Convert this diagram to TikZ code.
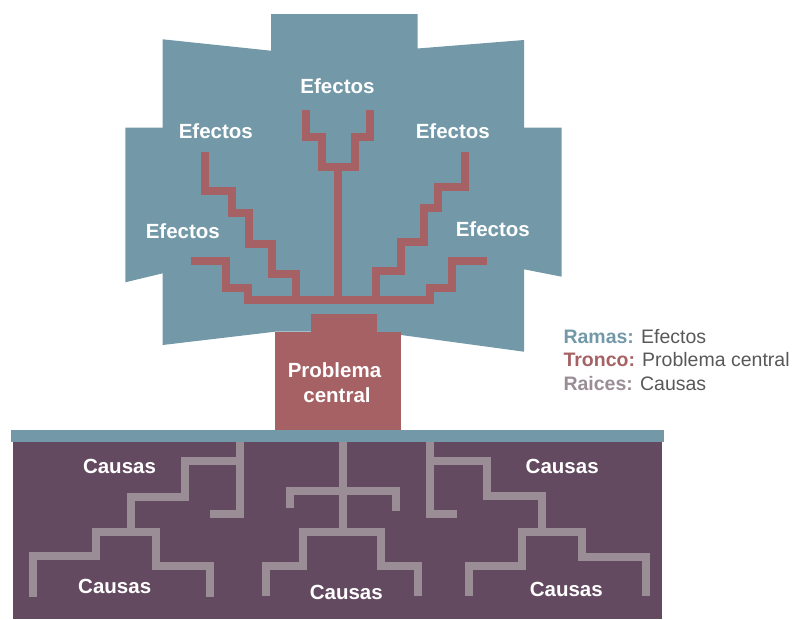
\documentclass[tikz,border=0pt]{standalone}
\usepackage{fontspec}
\setmainfont{Liberation Sans}
\definecolor{canopy}{HTML}{7399A8}
\definecolor{trunk}{HTML}{A56163}
\definecolor{soil}{HTML}{634A60}
\definecolor{root}{HTML}{9B8D96}
\definecolor{legtext}{HTML}{585858}
\begin{document}
\begin{tikzpicture}[x=1pt,y=-1pt,
  lbl/.style={text=white,font=\bfseries\fontsize{20.5}{22}\selectfont,inner sep=0pt,anchor=base},
  leg/.style={anchor=base west,inner sep=0pt,font=\fontsize{19.5}{22}\selectfont,text=legtext},
  branch/.style={draw=trunk,line width=8pt,line join=miter,line cap=butt},
  rootl/.style={draw=root,line width=8pt,line join=miter,line cap=butt}]
\useasboundingbox (0,0) rectangle (792,619);
% canopy
\fill[canopy] (271,14) -- (417.5,14) -- (417.5,48.5) -- (524,40) -- (524,127.5) -- (561.7,127.5) -- (561.7,276.7) -- (524,269.3) -- (524,351.7) -- (377,331.7) -- (275,331.7) -- (162.7,345) -- (162.7,273.3) -- (125.3,282.3) -- (125.3,127.7) -- (162.7,127.7) -- (162.7,39.3) -- (271,50.7) -- cycle;
% trunk
\fill[trunk] (311,314) rectangle (377,332);
\fill[trunk] (275,331.5) rectangle (401,432);
% soil and ground bar
\fill[soil] (12.7,440) rectangle (662,619);
\fill[canopy] (10.7,430) rectangle (664,442.3);
% branches
\draw[branch] (306,110) -- (306,136.7) -- (322,136.7) -- (322,167) -- (355,167) -- (355,136.7) -- (370,136.7) -- (370,110);
\draw[branch] (337.5,167) -- (337.5,299.7);
\draw[branch] (190.7,261.2) -- (226.2,261.2) -- (226.2,287.8) -- (247.8,287.8) -- (247.8,299.7) -- (430,299.7) -- (430,287.8) -- (452.2,287.8) -- (452.2,261.2) -- (486.7,261.2);
\draw[branch] (205,151.7) -- (205,191.2) -- (231.7,191.2) -- (231.7,213) -- (248.8,213) -- (248.8,243.8) -- (271.7,243.8) -- (271.7,273.8) -- (296.2,273.8) -- (296.2,299.7);
\draw[branch] (465,151.7) -- (465,186.7) -- (437.8,186.7) -- (437.8,208.2) -- (423.8,208.2) -- (423.8,242.2) -- (401.2,242.2) -- (401.2,271.3) -- (376.2,271.3) -- (376.2,299.7);
% roots left
\draw[rootl] (239.5,442) -- (239.5,513.7) -- (210,513.7);
\draw[rootl] (239.5,461) -- (185,461) -- (185,496.7) -- (131.2,496.7) -- (131.2,531.7);
\draw[rootl] (32.8,596.7) -- (32.8,556.2) -- (96.2,556.2) -- (96.2,531.7) -- (156.2,531.7) -- (156.2,565.5) -- (210,565.5) -- (210,596.7);
% roots centre
\draw[rootl] (342.8,442) -- (342.8,531.7);
\draw[rootl] (289.5,508.3) -- (289.5,490.5) -- (395.5,490.5) -- (395.5,511);
\draw[rootl] (266.2,596) -- (266.2,565.5) -- (303.3,565.5) -- (303.3,531.7) -- (381.2,531.7) -- (381.2,565.5) -- (418.3,565.5) -- (418.3,596);
% roots right
\draw[rootl] (429.5,442) -- (429.5,513.8) -- (457.3,513.8);
\draw[rootl] (429.5,461) -- (487.2,461) -- (487.2,495.5) -- (541.7,495.5) -- (541.7,532);
\draw[rootl] (468.8,596) -- (468.8,565.5) -- (522.2,565.5) -- (522.2,532) -- (582.2,532) -- (582.2,556.5) -- (645.5,556.5) -- (645.5,596);
% labels
\node[lbl] (e1) at (337.5,93.3) {Efectos};
\node[lbl] (e2) at (215.8,138.3) {Efectos};
\node[lbl] (e3) at (182.8,238.3) {Efectos};
\node[lbl] (e4) at (452.8,138.3) {Efectos};
\node[lbl] (e5) at (492.8,236) {Efectos};
\node[lbl] (p1) at (334.5,377.7) {Problema};
\node[lbl] (p2) at (337,402.7) {central};
\node[lbl] (c1) at (119.5,473.3) {Causas};
\node[lbl] (c2) at (114.7,593.3) {Causas};
\node[lbl] (c3) at (346.3,599) {Causas};
\node[lbl] (c4) at (562.2,473.3) {Causas};
\node[lbl] (c5) at (566.3,596) {Causas};
% legend
\node[leg] (l1) at (563.3,343.5) {\textcolor{canopy}{\bfseries Ramas:} Efectos};
\node[leg] (l2) at (563.3,366.5) {\textcolor{trunk}{\bfseries Tronco:} Problema central};
\node[leg] (l3) at (563.3,390) {\textcolor{root}{\bfseries Raices:} Causas};
\end{tikzpicture}
\end{document}
